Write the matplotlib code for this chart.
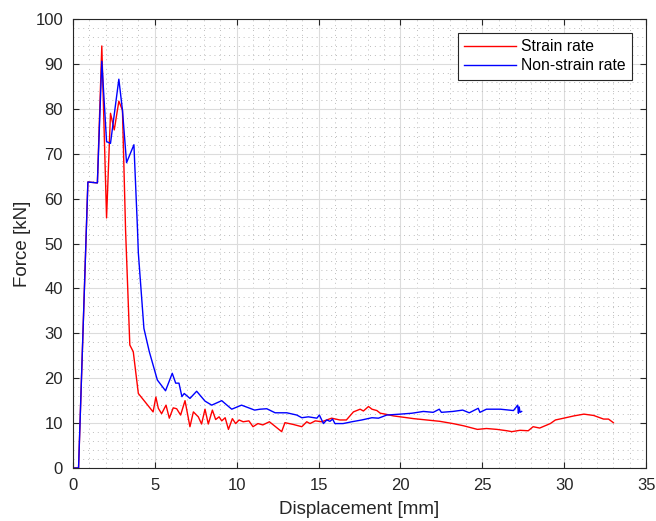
import matplotlib
matplotlib.use("Agg")
import matplotlib.pyplot as plt
from matplotlib.ticker import MultipleLocator

# Strain rate curve (red)
strain_x = [0.0, 0.35, 0.92, 1.5, 1.77, 2.06, 2.3, 2.53, 2.81, 3.03, 3.22, 3.48, 3.69, 4.0,
            4.9, 5.07, 5.22, 5.42, 5.69, 5.89, 6.13, 6.34, 6.58, 6.85, 7.15, 7.36, 7.66, 7.86,
            8.07, 8.27, 8.52, 8.72, 8.93, 9.09, 9.3, 9.5, 9.74, 9.94, 10.15, 10.4, 10.75, 11.0,
            11.3, 11.6, 12.0, 12.24, 12.75, 12.95, 13.46, 13.98, 14.28, 14.48, 14.8, 15.2, 15.5,
            15.8, 16.3, 16.7, 17.13, 17.54, 17.74, 18.05, 18.26, 18.56, 18.77, 19.07, 19.58,
            20.2, 20.8, 21.6, 22.4, 23.2, 23.86, 24.7, 25.25, 25.9, 26.5, 26.8, 27.3, 27.8,
            28.1, 28.5, 29.15, 29.46, 29.97, 30.58, 31.2, 31.8, 32.4, 32.7, 33.0]
strain_y = [0.0, 0.0, 63.7, 63.5, 94.0, 55.7, 79.0, 75.3, 81.7, 79.7, 53.0, 27.4, 25.9, 16.6,
            12.5, 15.8, 13.3, 12.1, 14.0, 11.1, 13.4, 13.2, 11.8, 15.0, 9.2, 12.5, 11.4, 9.8,
            13.1, 9.8, 12.9, 10.8, 11.4, 10.5, 11.2, 8.6, 11.0, 9.9, 10.7, 10.3, 10.5, 9.2,
            9.9, 9.6, 10.3, 9.6, 8.1, 10.1, 9.7, 9.2, 10.3, 9.9, 10.5, 10.3, 10.7,
            11.1, 10.7, 10.7, 12.5, 13.1, 12.7, 13.7, 13.1, 12.8, 12.2, 12.0, 11.6,
            11.3, 11.0, 10.7, 10.4, 9.9, 9.4, 8.6, 8.8, 8.6, 8.3, 8.1, 8.4, 8.3,
            9.2, 8.9, 9.9, 10.7, 11.1, 11.6, 12.0, 11.7, 10.9, 10.9, 10.1]

# Non-strain rate curve (blue)
nonstrain_x = [0.0, 0.35, 0.92, 1.5, 1.77, 2.06, 2.3, 2.81, 3.03, 3.28, 3.73, 3.95, 4.0, 4.34,
               4.67, 5.16, 5.66, 6.07, 6.28, 6.48, 6.66, 6.8, 7.15, 7.56, 8.07, 8.48, 9.09, 9.7,
               10.3, 11.1, 11.43, 11.84, 12.35, 13.06, 13.67, 13.98, 14.38, 14.9, 15.05, 15.3,
               15.5, 15.7, 15.86, 16.0, 16.5, 17.03, 17.64, 18.26, 18.66, 19.17, 19.99, 20.7,
               21.4, 22.0, 22.37, 22.5, 23.2, 23.8, 24.2, 24.75, 24.85, 25.25, 26.1, 26.9,
               27.16, 27.2, 27.25, 27.3, 27.4]
nonstrain_y = [0.0, 0.0, 63.7, 63.5, 90.6, 72.7, 72.3, 86.6, 79.7, 68.0, 72.0, 53.0, 47.9, 31.1,
               25.9, 19.6, 17.2, 21.1, 18.9, 18.9, 15.9, 16.6, 15.5, 17.1, 14.9, 14.0, 15.0, 13.1,
               14.0, 12.9, 13.1, 13.2, 12.3, 12.3, 11.8, 11.2, 11.4, 11.1, 11.8, 9.9,
               10.7, 10.4, 10.9, 9.9, 9.9, 10.3, 10.7, 11.2, 11.1, 11.8, 12.0, 12.2,
               12.6, 12.4, 13.1, 12.4, 12.6, 12.9, 12.3, 13.3, 12.4, 13.1, 13.1, 12.8,
               14.0, 12.2, 13.6, 12.4, 12.6]

plt.rcParams['font.family'] = ['Liberation Sans', 'DejaVu Sans']

fig = plt.figure(figsize=(6.56, 5.21), dpi=100)
ax = fig.add_axes([0.111, 0.1017, 0.874, 0.8618])

ax.plot(strain_x, strain_y, color='red', lw=1.0, label='Strain rate')
ax.plot(nonstrain_x, nonstrain_y, color='blue', lw=1.0, label='Non-strain rate')

ax.set_xlim(0, 35)
ax.set_ylim(0, 100)
ax.xaxis.set_major_locator(MultipleLocator(5))
ax.xaxis.set_minor_locator(MultipleLocator(1))
ax.yaxis.set_major_locator(MultipleLocator(10))
ax.yaxis.set_minor_locator(MultipleLocator(2))

# matlab-ish grid: solid major, dotted minor
ax.grid(which='major', color='#dcdcdc', lw=0.8, ls='-')
ax.grid(which='minor', color='#bdbdbd', lw=0.7, ls=(0, (1, 4)))
ax.set_axisbelow(True)

ax.tick_params(which='both', direction='in', top=True, right=True, colors='#262626',
               labelsize=12, pad=7)
ax.tick_params(which='minor', length=0)
ax.tick_params(which='major', length=4)
for s in ax.spines.values():
    s.set_color('#262626')
    s.set_linewidth(0.8)

ax.set_xlabel('Displacement [mm]', fontsize=13.5, color='#262626', labelpad=6)
ax.set_ylabel('Force [kN]', fontsize=13.5, color='#262626', labelpad=3)

leg = ax.legend(loc='upper right', fontsize=11.3, fancybox=False, framealpha=1,
                edgecolor='#262626', borderaxespad=0.9, handlelength=3.3,
                handletextpad=0.35, labelspacing=0.25, borderpad=0.4)
leg.get_frame().set_linewidth(0.8)

fig.savefig('out.png', dpi=100)
